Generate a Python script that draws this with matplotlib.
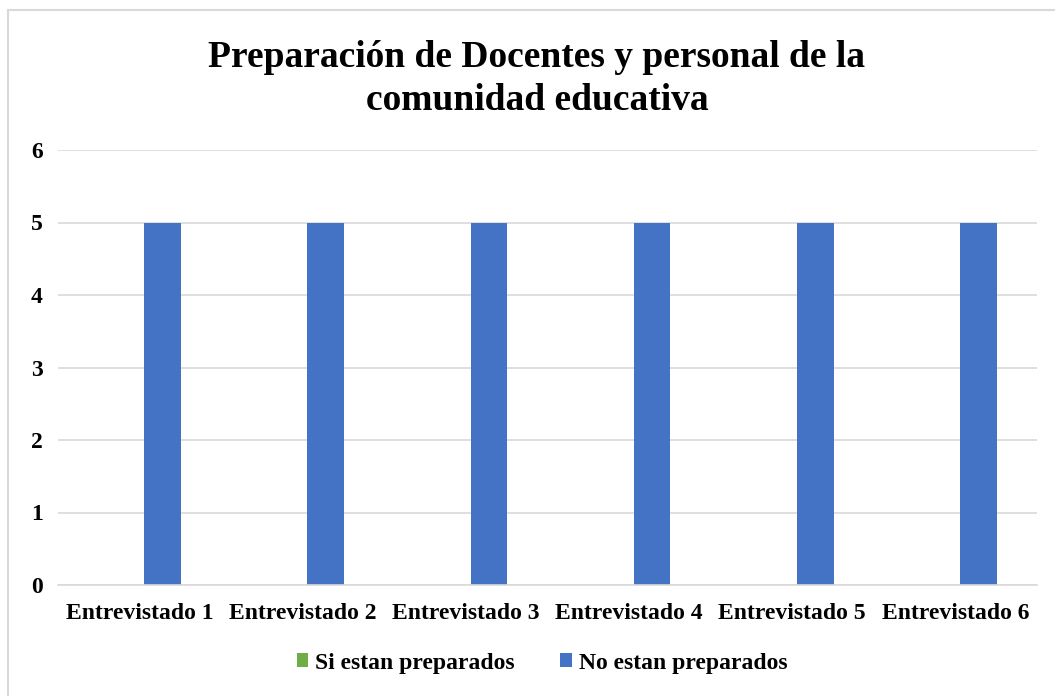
import matplotlib.pyplot as plt
import matplotlib.patches as mpatches
import numpy as np

categories = ['Entrevistado 1', 'Entrevistado 2', 'Entrevistado 3',
              'Entrevistado 4', 'Entrevistado 5', 'Entrevistado 6']
si_preparados = [0, 0, 0, 0, 0, 0]
no_preparados = [5, 5, 5, 5, 5, 5]
series_names = ['Si estan preparados', 'No estan preparados']

plt.rcParams['font.family'] = ['Liberation Serif', 'DejaVu Serif']
plt.rcParams['font.weight'] = 'bold'

W, H = 1055, 696
fig = plt.figure(figsize=(W / 100, H / 100), dpi=100)

# light grey chart frame
fig.patches.append(mpatches.Rectangle((8 / W, -0.01), 1.1, 1 - 10 / H + 0.01,
                                      transform=fig.transFigure, fill=False,
                                      edgecolor='#d9d9d9', lw=1.5))

ax = fig.add_axes([58 / W, 1 - 585 / H, (1037 - 58) / W, (585 - 150) / H])

x = np.arange(len(categories))
bw = 0.225
off = 0.141
ax.bar(x - off, si_preparados, bw, color='#70AD47', label=series_names[0])
ax.bar(x + off, no_preparados, bw, color='#4472C4', label=series_names[1])

ax.set_xlim(-0.5, len(categories) - 0.5)
ax.set_ylim(0, 6)
ax.set_yticks(range(0, 7))
ax.set_xticks(x)
ax.set_xticklabels(categories, fontsize=17, fontweight='bold')
ax.tick_params(axis='y', labelsize=17, length=0, pad=11)
ax.tick_params(axis='x', length=0, pad=13)
ax.grid(axis='y', color='#d9d9d9', lw=1.2)
ax.set_axisbelow(True)
for s in ['top', 'right', 'left']:
    ax.spines[s].set_visible(False)
ax.spines['bottom'].set_color('#d9d9d9')
ax.spines['bottom'].set_linewidth(1.2)

fig.text(537 / W, 1 - 79 / H, 'Preparación de Docentes y personal de la\ncomunidad educativa',
         ha='center', va='center', fontsize=27, fontweight='bold', linespacing=1.3)

fig.legend(loc='center', bbox_to_anchor=(542 / W, 1 - 663 / H), ncol=2, frameon=False,
           fontsize=17, handlelength=0.5, handleheight=0.5, handletextpad=0.3,
           columnspacing=1.9)

fig.savefig('out.png', dpi=100)
